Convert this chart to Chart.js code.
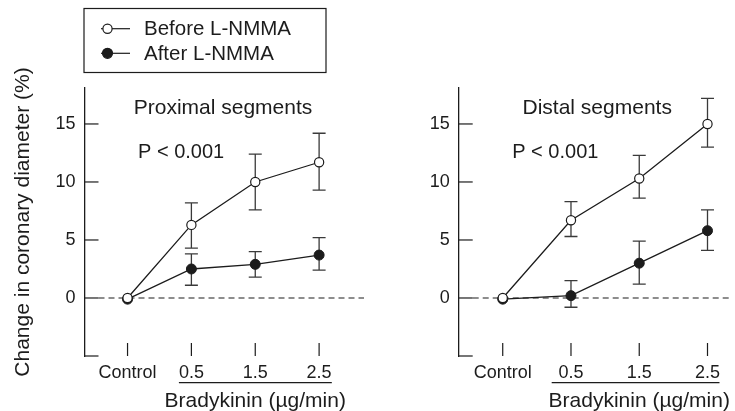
<!DOCTYPE html>
<html>
<head>
<meta charset="utf-8">
<script src="https://cdn.jsdelivr.net/npm/chart.js@4/dist/chart.umd.min.js"></script>
<style>
  body { margin: 0; background: #fff; }
  .panel { position: absolute; top: 0; height: 411px; }
  #left { left: 0; width: 370px; }
  #right { left: 370px; width: 365px; }
</style>
</head>
<body>
<div class="panel" id="left"><canvas id="prox-chart"></canvas></div>
<div class="panel" id="right"><canvas id="dist-chart"></canvas></div>
<script>
var FONT = '"Liberation Sans", Arial, Helvetica, sans-serif';
var INK = "#1c1c1c";

// x categories and y ticks
var doses = ["Control", "0.5", "1.5", "2.5"];
var yTicks = [-5, 0, 5, 10, 15];

// proximal segments
var proxBefore = [0, 6.3, 10.0, 11.7];
var proxBeforeHi = [0, 8.2, 12.4, 14.2];
var proxBeforeLo = [0, 4.3, 7.6, 9.3];
var proxAfter = [-0.1, 2.5, 2.9, 3.7];
var proxAfterHi = [-0.1, 3.8, 4.0, 5.2];
var proxAfterLo = [-0.1, 1.1, 1.8, 2.4];

// distal segments
var distBefore = [0, 6.7, 10.3, 15.0];
var distBeforeHi = [0, 8.3, 12.3, 17.2];
var distBeforeLo = [0, 5.3, 8.6, 13.0];
var distAfter = [-0.1, 0.2, 3.0, 5.8];
var distAfterHi = [-0.1, 1.5, 4.9, 7.6];
var distAfterLo = [-0.1, -0.8, 1.2, 4.1];

function pts(arr) {
  return arr.map(function (v, i) { return { x: i, y: v }; });
}

// error bars, zero line, inward ticks
var panelDecor = {
  id: "panelDecor",
  beforeDatasetsDraw: function (chart, args, opts) {
    var ctx = chart.ctx;
    var a = chart.chartArea;
    var xs = chart.scales.x;
    var ys = chart.scales.y;
    ctx.save();
    ctx.strokeStyle = INK;
    ctx.lineWidth = 1.2;
    // dashed zero line
    ctx.setLineDash([6, 4]);
    ctx.beginPath();
    ctx.moveTo(a.left + 14, ys.getPixelForValue(0));
    ctx.lineTo(a.right, ys.getPixelForValue(0));
    ctx.stroke();
    ctx.setLineDash([]);
    // y ticks pointing inward
    yTicks.forEach(function (t) {
      var y = ys.getPixelForValue(t);
      ctx.beginPath();
      ctx.moveTo(a.left, y);
      ctx.lineTo(a.left + 14, y);
      ctx.stroke();
    });
    // x ticks pointing up
    doses.forEach(function (d, i) {
      var x = xs.getPixelForValue(i);
      ctx.beginPath();
      ctx.moveTo(x, a.bottom);
      ctx.lineTo(x, a.bottom - 13);
      ctx.stroke();
    });
    // error bars
    ctx.strokeStyle = "#3a3a3a";
    ctx.lineWidth = 1.3;
    opts.errors.forEach(function (e, di) {
      var meta = chart.getDatasetMeta(di);
      meta.data.forEach(function (p, j) {
        if (e.hi[j] === e.lo[j]) return;
        var yh = ys.getPixelForValue(e.hi[j]);
        var yl = ys.getPixelForValue(e.lo[j]);
        ctx.beginPath();
        ctx.moveTo(p.x, yh); ctx.lineTo(p.x, yl);
        ctx.moveTo(p.x - 6.5, yh); ctx.lineTo(p.x + 6.5, yh);
        ctx.moveTo(p.x - 6.5, yl); ctx.lineTo(p.x + 6.5, yl);
        ctx.stroke();
      });
    });
    ctx.restore();
  },
  afterDraw: function (chart, args, opts) {
    var ctx = chart.ctx;
    var a = chart.chartArea;
    var xs = chart.scales.x;
    ctx.save();
    ctx.fillStyle = INK;
    ctx.strokeStyle = INK;
    ctx.textBaseline = "alphabetic";
    // panel title and p value
    ctx.font = "21px " + FONT;
    ctx.textAlign = "center";
    ctx.fillText(opts.title, a.left + 138.5, 113.5);
    ctx.font = "20px " + FONT;
    ctx.textAlign = "left";
    ctx.fillText(opts.pText, a.left + 53.5, 157.5);
    // underline under dose ticks + axis label
    var x1 = xs.getPixelForValue(1) - opts.ulLeft;
    var x3 = xs.getPixelForValue(3) + opts.ulRight;
    ctx.lineWidth = 1.2;
    ctx.beginPath();
    ctx.moveTo(x1, 382.7);
    ctx.lineTo(x3, 382.7);
    ctx.stroke();
    ctx.font = "21px " + FONT;
    ctx.textAlign = "center";
    ctx.fillText("Bradykinin (\u00b5g/min)", xs.getPixelForValue(2), 407);
    // legend box
    if (opts.legend) {
      ctx.lineWidth = 1.2;
      ctx.strokeRect(84, 8.5, 242, 64);
      var rows = [28.7, 53.3];
      chart.data.datasets.forEach(function (ds, i) {
        var y = rows[i];
        ctx.beginPath();
        ctx.moveTo(101, y);
        ctx.lineTo(130, y);
        ctx.stroke();
        ctx.beginPath();
        ctx.arc(107.5, y, ds.pointRadius, 0, Math.PI * 2);
        ctx.fillStyle = ds.pointBackgroundColor;
        ctx.fill();
        ctx.stroke();
        ctx.fillStyle = INK;
        ctx.font = "20.5px " + FONT;
        ctx.textAlign = "left";
        ctx.fillText(ds.label, 144, y + 6.5);
      });
    }
    ctx.restore();
  }
};

function makePanel(id, title, before, bHi, bLo, after, aHi, aLo, xMin, xMax, axisW, padRight, ulLeft, ulRight, legend) {
  var ctx = document.getElementById(id).getContext("2d");
  return new Chart(ctx, {
    type: "line",
    data: {
      datasets: [
        {
          label: "Before L-NMMA",
          data: pts(before),
          borderColor: INK,
          borderWidth: 1.3,
          pointRadius: 4.6,
          pointBorderWidth: 1.2,
          pointBackgroundColor: "#ffffff",
          pointBorderColor: INK,
          tension: 0,
        },
        {
          label: "After L-NMMA",
          data: pts(after),
          borderColor: INK,
          borderWidth: 1.3,
          pointRadius: 5,
          pointBorderWidth: 1,
          pointBackgroundColor: INK,
          pointBorderColor: INK,
          tension: 0,
        },
      ],
    },
    options: {
      responsive: true,
      maintainAspectRatio: false,
      animation: false,
      layout: { padding: { top: 88, right: padRight, left: 0, bottom: 0 } },
      plugins: {
        legend: { display: false },
        tooltip: { enabled: false },
        panelDecor: {
          title: title,
          pText: "P < 0.001",
          ulLeft: ulLeft,
          ulRight: ulRight,
          legend: legend,
          errors: [{ hi: bHi, lo: bLo }, { hi: aHi, lo: aLo }],
        },
      },
      scales: {
        x: {
          type: "linear",
          min: xMin,
          max: xMax,
          afterBuildTicks: function (s) {
            s.ticks = doses.map(function (d, i) { return { value: i }; });
          },
          afterFit: function (s) { s.height = 55; },
          grid: { display: false, drawTicks: false },
          border: { display: false },
          ticks: {
            autoSkip: false,
            maxRotation: 0,
            padding: 6.7,
            color: INK,
            font: { family: FONT, size: 18 },
            callback: function (v) { return doses[v]; },
          },
        },
        y: {
          min: -5,
          max: 18.1,
          afterBuildTicks: function (s) {
            s.ticks = yTicks.map(function (t) { return { value: t }; });
          },
          afterFit: function (s) { s.width = axisW; },
          grid: { drawOnChartArea: false, drawTicks: false },
          border: { display: true, color: INK, width: 1.3 },
          ticks: {
            padding: 9,
            color: INK,
            font: { family: FONT, size: 18 },
            callback: function (v) { return v === -5 ? "" : v; },
          },
          title: {
            display: legend,
            text: "Change in coronary diameter (%)",
            color: INK,
            font: { family: FONT, size: 21 },
            padding: { top: 10.4, bottom: 0 },
          },
        },
      },
    },
    plugins: [panelDecor],
  });
}

//PROXIMAL
makePanel("prox-chart", "Proximal segments",
  proxBefore, proxBeforeHi, proxBeforeLo, proxAfter, proxAfterHi, proxAfterLo,
  -0.674, 3.703, 84.5, 1, 12.5, 12.7, true);

//DISTAL
makePanel("dist-chart", "Distal segments",
  distBefore, distBeforeHi, distBeforeLo, distAfter, distAfterHi, distAfterLo,
  -0.645, 3.315, 88.7, 0, 19.3, 12, false);
</script>
</body>
</html>
